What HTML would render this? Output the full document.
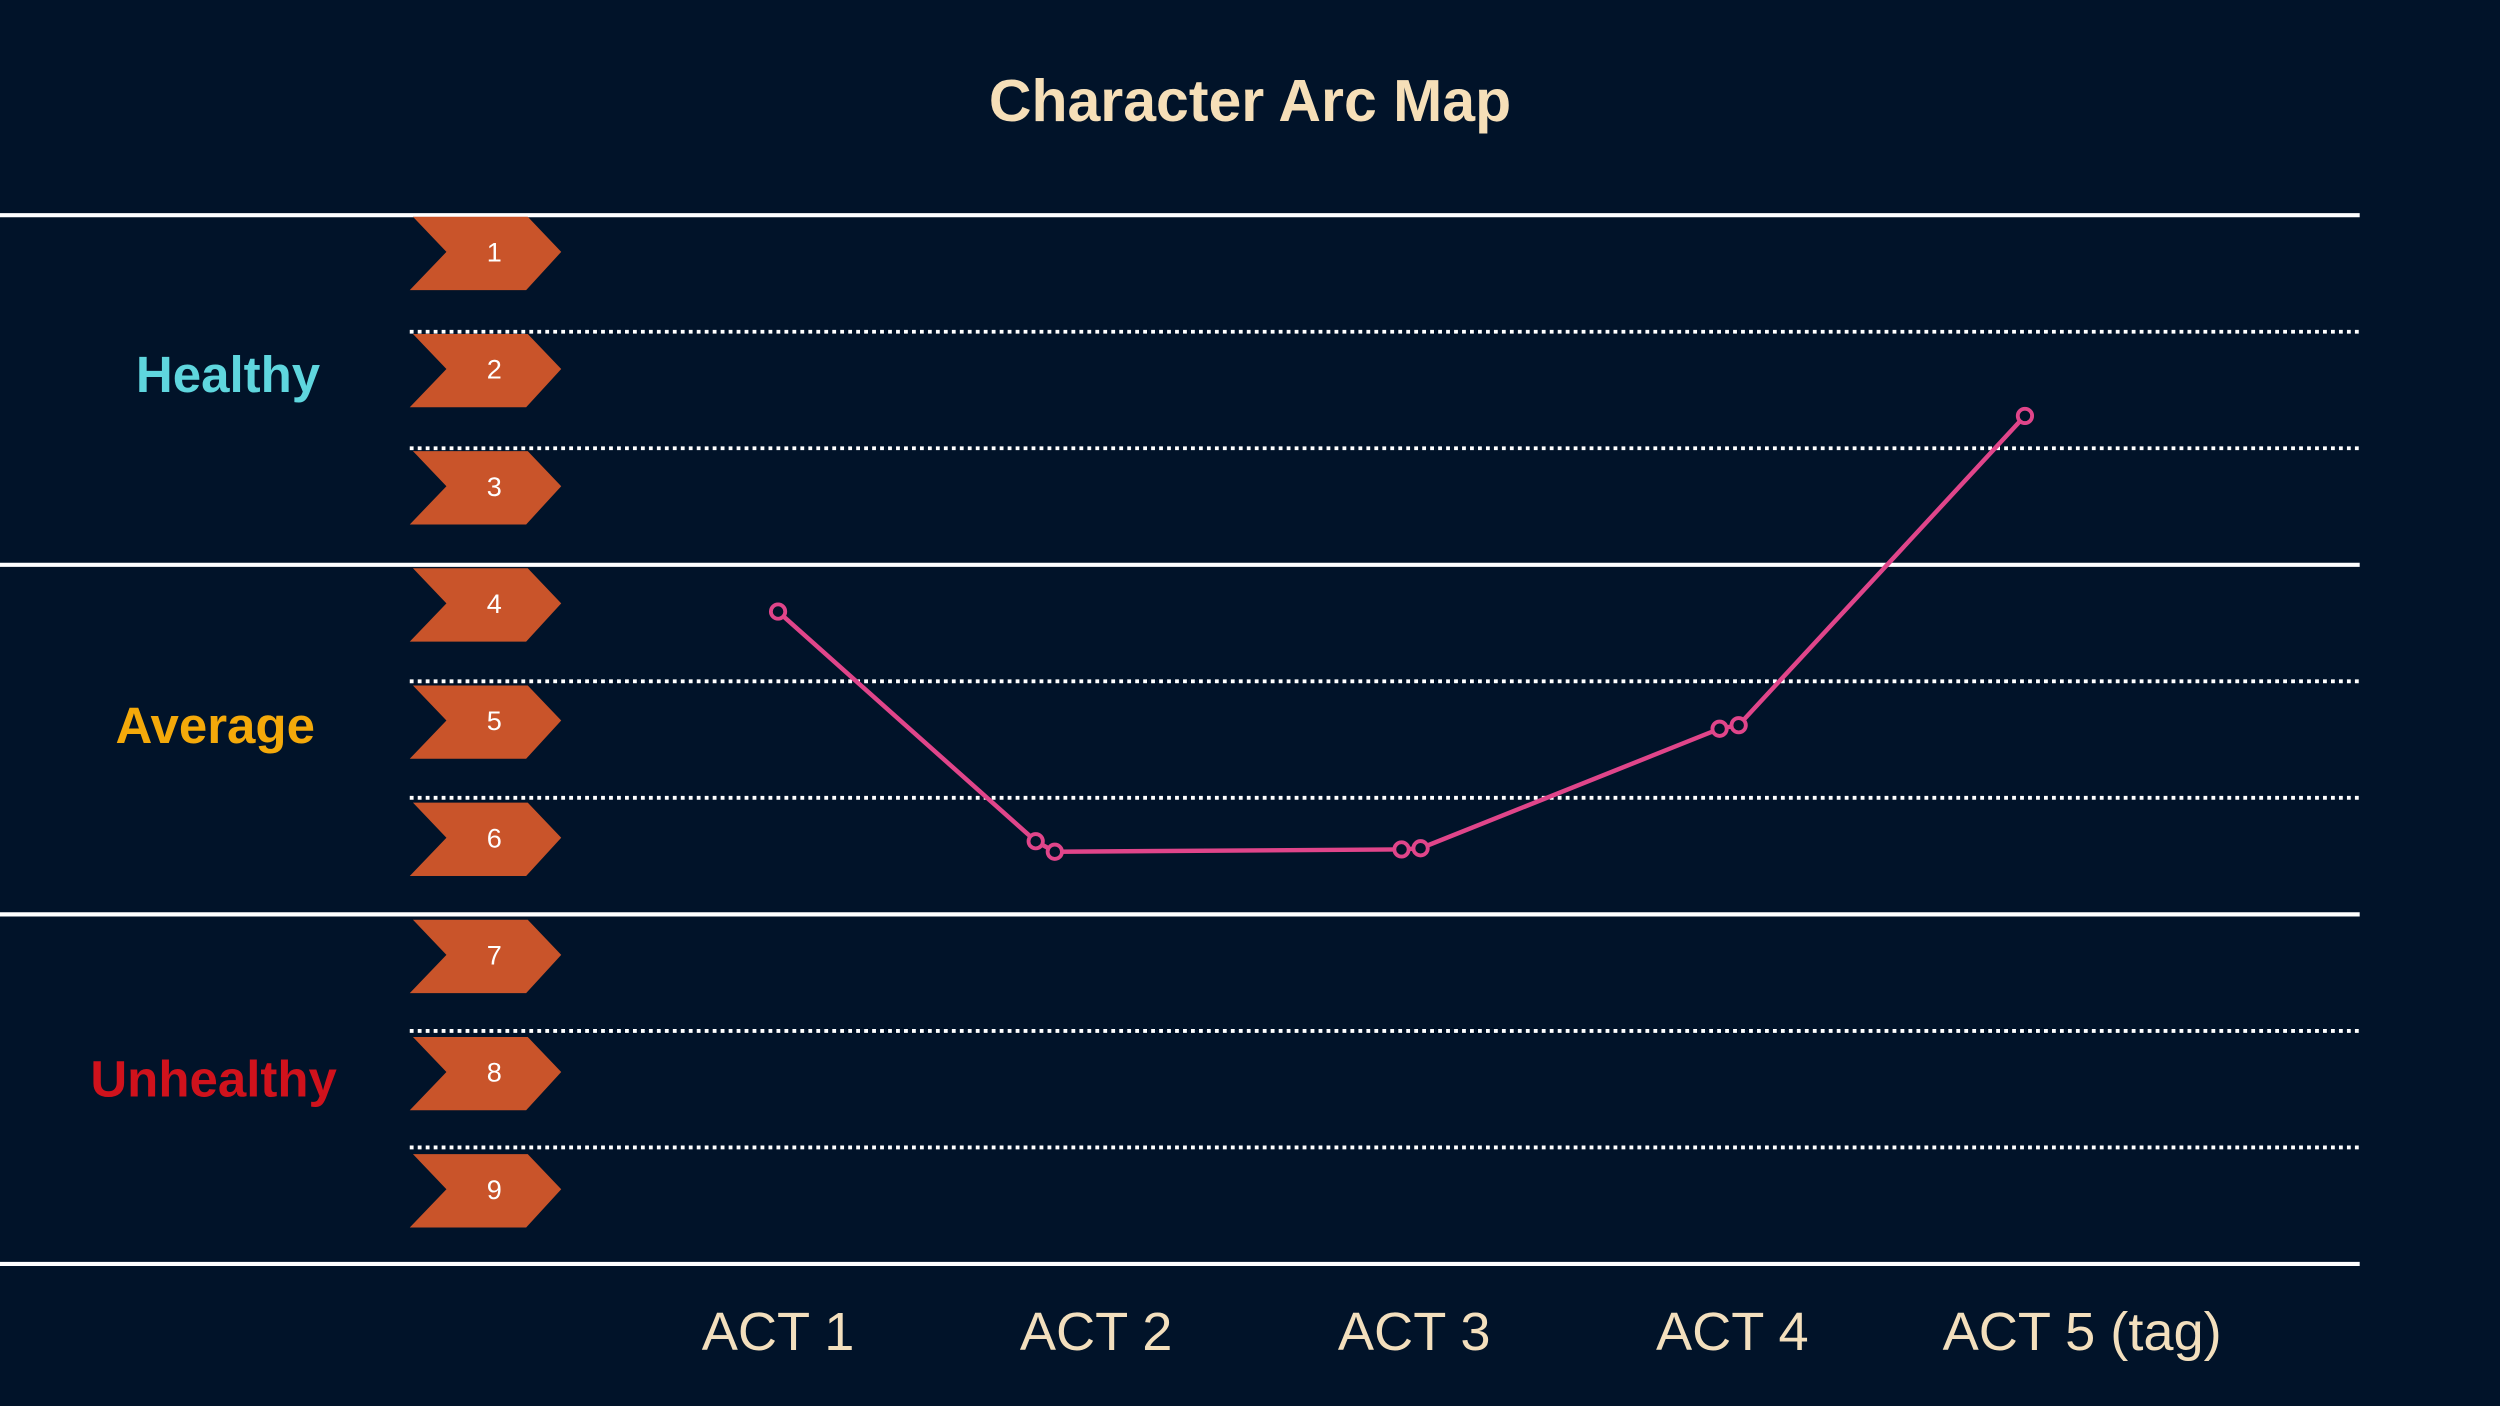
<!DOCTYPE html>
<html><head><meta charset="utf-8"><style>
html,body{margin:0;padding:0;background:#011329;}
svg{display:block}
text{font-family:"Liberation Sans",sans-serif}
</style></head><body>
<svg width="2500" height="1406" viewBox="0 0 1568 882" preserveAspectRatio="none">
<rect x="0" y="0" width="1568" height="882" fill="#011329"/>
<text x="784" y="76" text-anchor="middle" font-size="37" font-weight="bold" fill="#f6dfb8">Character Arc Map</text>
<g id="grid"></g>
<g id="chevrons"></g>
<text x="143" y="246" text-anchor="middle" font-size="32" font-weight="bold" fill="#5fd6de">Healthy</text>
<text x="135" y="466" text-anchor="middle" font-size="32" font-weight="bold" fill="#f4a90a">Average</text>
<text x="134" y="688" text-anchor="middle" font-size="32" font-weight="bold" fill="#d0121c">Unhealthy</text>
<g id="xlabels"></g>
<g id="series"></g>
</svg>
<script>
const rows = [1,2,3,4,5,6,7,8,9];
const solidBounds = [0.5,3.5,6.5,9.5];
const dottedBounds = [1.5,2.5,4.5,5.5,7.5,8.5];
const actLabels = ["ACT 1","ACT 2","ACT 3","ACT 4","ACT 5 (tag)"];
const actPos = [1,2,3,4,5.1];
const arcX = [1.0,1.81,1.87,2.96,3.02,3.96,4.02,4.92];
const arcY = [4.07,6.03,6.12,6.1,6.09,5.07,5.04,2.4];

const NS="http://www.w3.org/2000/svg";
function yS(v){return 158+(v-1)*73.5;}
function yB(b){return 135+(b-0.5)*73.1;}
function xS(a){return 488+(a-1)*199.5;}
function mk(tag,attrs,parent){const e=document.createElementNS(NS,tag);for(const k in attrs)e.setAttribute(k,attrs[k]);parent.appendChild(e);return e;}

const grid=document.getElementById('grid');
solidBounds.forEach(b=>{
  const l=mk('line',{x1:0,x2:1480,y1:yB(b),y2:yB(b),stroke:'#ffffff','stroke-width':2.6},grid);
  
  
});
dottedBounds.forEach(b=>{
  const l=mk('line',{x1:257,x2:1480,y1:yB(b),y2:yB(b),stroke:'#ffffff','stroke-width':2.4,'stroke-dasharray':'2.4 2.6'},grid);
  
  
});

const chev=document.getElementById('chevrons');
rows.forEach(r=>{
  const c=yS(r);
  const g=mk('g',{},chev);
  
  
  mk('polygon',{points:`259,${c-22} 331,${c-22} 352,${c} 330,${c+24} 257,${c+24} 280,${c}`,fill:'#c9542a'},g);
  const t=mk('text',{x:310,y:c+6,'text-anchor':'middle','font-size':17,fill:'#ffffff'},g);
  t.textContent=r;
});

const xl=document.getElementById('xlabels');
actLabels.forEach((s,i)=>{
  const t=mk('text',{x:xS(actPos[i]),y:847,'text-anchor':'middle','font-size':34,fill:'#f3dfbd'},xl);
  
  
  t.textContent=s;
});

const ser=document.getElementById('series');
const pts=arcX.map((x,i)=>xS(x)+','+yS(arcY[i])).join(' ');
const pl=mk('polyline',{points:pts,fill:'none',stroke:'#e0458a','stroke-width':2.8},ser);


arcX.forEach((x,i)=>{
  const c=mk('circle',{cx:xS(x),cy:yS(arcY[i]),r:4.5,fill:'#011329',stroke:'#e0458a','stroke-width':2.4},ser);
  
  
});
</script>
</body></html>
